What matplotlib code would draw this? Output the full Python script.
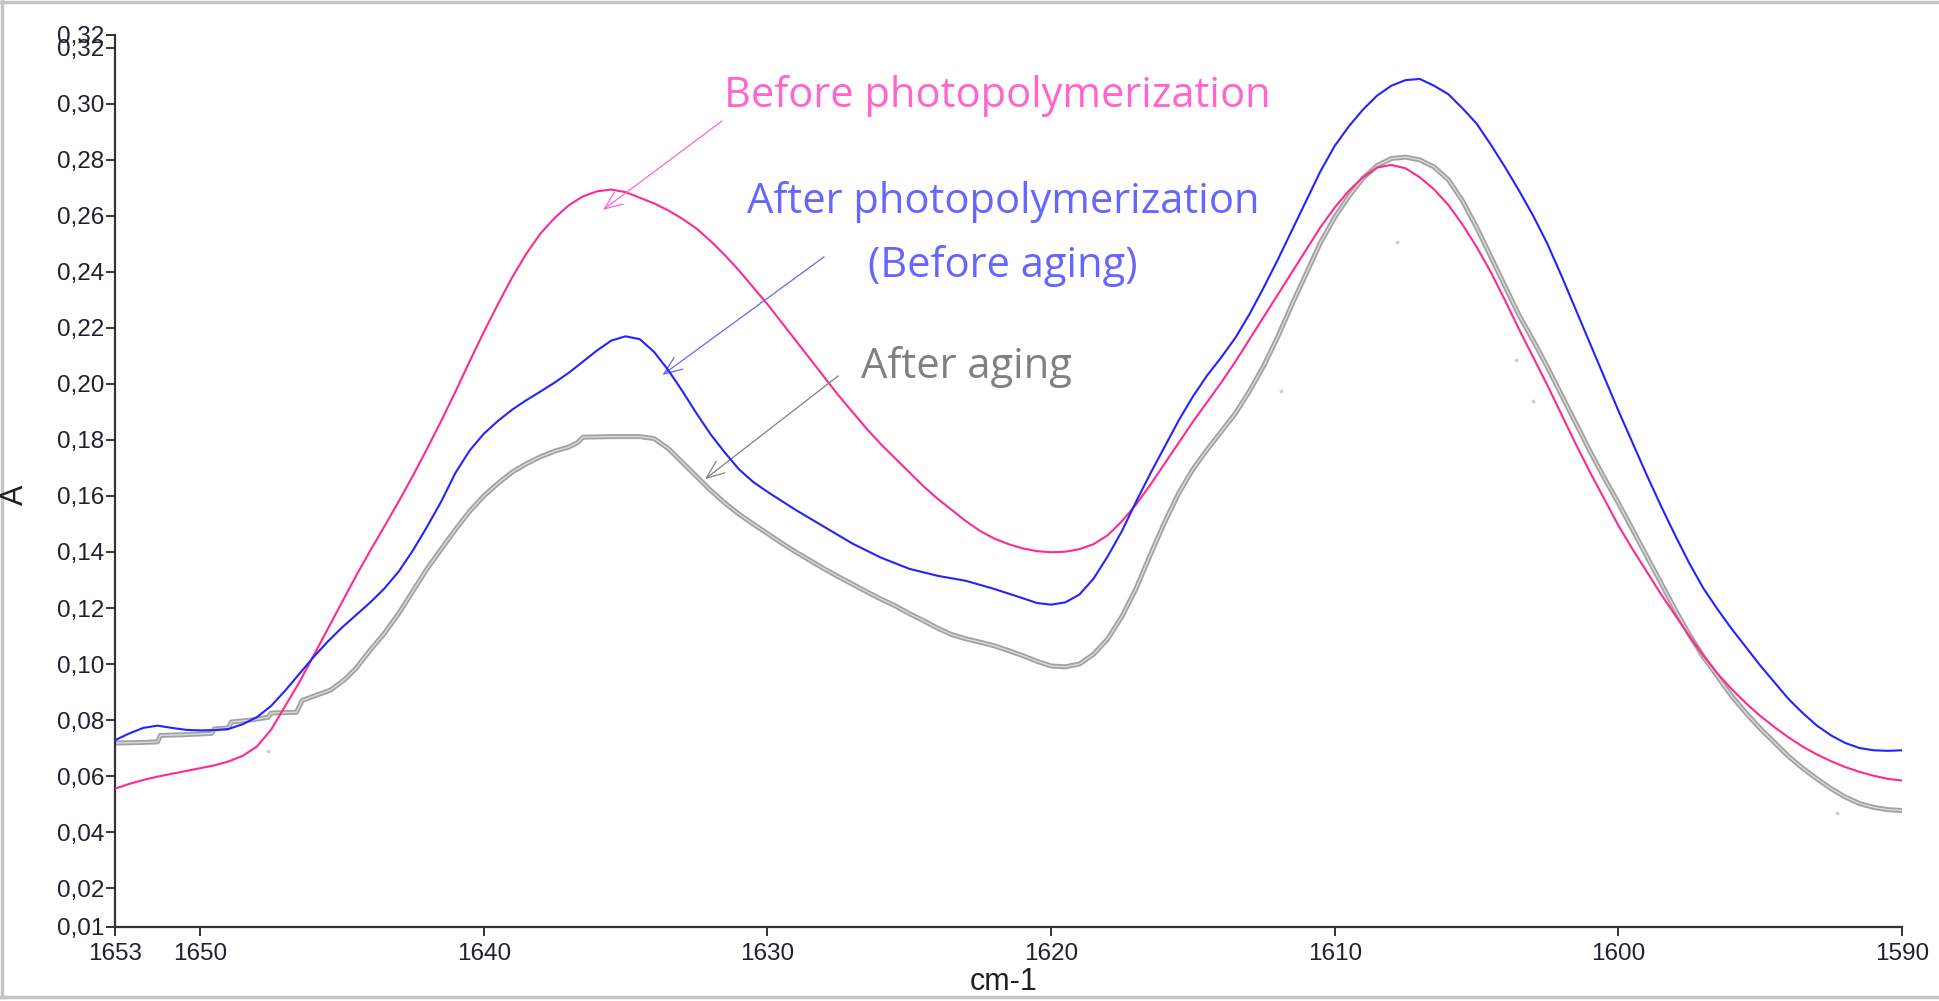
import matplotlib
matplotlib.use("Agg")
import matplotlib.pyplot as plt
from matplotlib.lines import Line2D

# Absorbance spectra, wavenumber (cm-1) vs absorbance
wn_before = [1653.0, 1652.5, 1652.0, 1651.5, 1651.0, 1650.5, 1650.0, 1649.5, 1649.0, 1648.5,
             1648.0, 1647.5, 1647.0, 1646.5, 1646.0, 1645.5, 1645.0, 1644.5, 1644.0, 1643.5,
             1643.0, 1642.5, 1642.0, 1641.5, 1641.0, 1640.5, 1640.0, 1639.5, 1639.0, 1638.5,
             1638.0, 1637.5, 1637.0, 1636.5, 1636.0, 1635.5, 1635.0, 1634.5, 1634.0, 1633.5,
             1633.0, 1632.5, 1632.0, 1631.5, 1631.0, 1630.5, 1630.0, 1629.5, 1629.0, 1628.5,
             1628.0, 1627.5, 1627.0, 1626.5, 1626.0, 1625.5, 1625.0, 1624.5, 1624.0, 1623.5,
             1623.0, 1622.5, 1622.0, 1621.5, 1621.0, 1620.5, 1620.0, 1619.5, 1619.0, 1618.5,
             1618.0, 1617.5, 1617.0, 1616.5, 1616.0, 1615.5, 1615.0, 1614.5, 1614.0, 1613.5,
             1613.0, 1612.5, 1612.0, 1611.5, 1611.0, 1610.5, 1610.0, 1609.5, 1609.0, 1608.5,
             1608.0, 1607.5, 1607.0, 1606.5, 1606.0, 1605.5, 1605.0, 1604.5, 1604.0, 1603.5,
             1603.0, 1602.5, 1602.0, 1601.5, 1601.0, 1600.5, 1600.0, 1599.5, 1599.0, 1598.5,
             1598.0, 1597.5, 1597.0, 1596.5, 1596.0, 1595.5, 1595.0, 1594.5, 1594.0, 1593.5,
             1593.0, 1592.5, 1592.0, 1591.5, 1591.0, 1590.5, 1590.0]
abs_before = [0.0555, 0.0572, 0.0586, 0.0598, 0.0608, 0.0618, 0.0628, 0.0638, 0.0652, 0.0672,
              0.0705, 0.0765, 0.0850, 0.0935, 0.1030, 0.1125, 0.1220, 0.1315, 0.1405, 0.1492,
              0.1580, 0.1672, 0.1768, 0.1868, 0.1972, 0.2080, 0.2185, 0.2285, 0.2380, 0.2465,
              0.2537, 0.2593, 0.2638, 0.2670, 0.2688, 0.2694, 0.2685, 0.2665, 0.2645, 0.2620,
              0.2590, 0.2555, 0.2510, 0.2460, 0.2405, 0.2345, 0.2285, 0.2220, 0.2155, 0.2090,
              0.2025, 0.1960, 0.1900, 0.1840, 0.1785, 0.1735, 0.1685, 0.1635, 0.1590, 0.1550,
              0.1510, 0.1475, 0.1448, 0.1428, 0.1413, 0.1403, 0.1399, 0.1401, 0.1410, 0.1428,
              0.1460, 0.1510, 0.1570, 0.1640, 0.1715, 0.1790, 0.1865, 0.1935, 0.2005, 0.2080,
              0.2160, 0.2240, 0.2320, 0.2400, 0.2480, 0.2560, 0.2630, 0.2690, 0.2738, 0.2773,
              0.2782, 0.2770, 0.2738, 0.2695, 0.2640, 0.2570, 0.2490, 0.2400, 0.2300, 0.2195,
              0.2095, 0.1995, 0.1890, 0.1785, 0.1685, 0.1590, 0.1495, 0.1410, 0.1330, 0.1250,
              0.1175, 0.1100, 0.1030, 0.0965, 0.0910, 0.0860, 0.0815, 0.0775, 0.0738, 0.0705,
              0.0677, 0.0653, 0.0632, 0.0615, 0.0601, 0.0590, 0.0584]

wn_after = [1653.0, 1652.5, 1652.0, 1651.5, 1651.0, 1650.5, 1650.0, 1649.5, 1649.0, 1648.5,
            1648.0, 1647.5, 1647.0, 1646.5, 1646.0, 1645.5, 1645.0, 1644.5, 1644.0, 1643.5,
            1643.0, 1642.5, 1642.0, 1641.5, 1641.0, 1640.5, 1640.0, 1639.5, 1639.0, 1638.5,
            1638.0, 1637.5, 1637.0, 1636.5, 1636.0, 1635.5, 1635.0, 1634.5, 1634.0, 1633.5,
            1633.0, 1632.5, 1632.0, 1631.5, 1631.0, 1630.5, 1630.0, 1629.0, 1628.0, 1627.0,
            1626.0, 1625.0, 1624.0, 1623.0, 1622.0, 1621.0, 1620.5, 1620.0, 1619.5, 1619.0,
            1618.5, 1618.0, 1617.5, 1617.0, 1616.5, 1616.0, 1615.5, 1615.0, 1614.5, 1614.0,
            1613.5, 1613.0, 1612.5, 1612.0, 1611.5, 1611.0, 1610.5, 1610.0, 1609.5, 1609.0,
            1608.5, 1608.0, 1607.5, 1607.0, 1606.5, 1606.0, 1605.5, 1605.0, 1604.5, 1604.0,
            1603.5, 1603.0, 1602.5, 1602.0, 1601.5, 1601.0, 1600.5, 1600.0, 1599.5, 1599.0,
            1598.5, 1598.0, 1597.5, 1597.0, 1596.5, 1596.0, 1595.5, 1595.0, 1594.5, 1594.0,
            1593.5, 1593.0, 1592.5, 1592.0, 1591.5, 1591.0, 1590.5, 1590.0]
abs_after = [0.0728, 0.0752, 0.0772, 0.0780, 0.0772, 0.0765, 0.0763, 0.0764, 0.0768, 0.0785,
             0.0810, 0.0850, 0.0905, 0.0965, 0.1025, 0.1080, 0.1130, 0.1175, 0.1220, 0.1270,
             0.1330, 0.1405, 0.1490, 0.1580, 0.1682, 0.1762, 0.1822, 0.1868, 0.1908, 0.1942,
             0.1973, 0.2005, 0.2040, 0.2080, 0.2120, 0.2155, 0.2170, 0.2160, 0.2115, 0.2050,
             0.1975, 0.1895, 0.1820, 0.1755, 0.1695, 0.1650, 0.1615, 0.1550, 0.1490, 0.1430,
             0.1380, 0.1340, 0.1315, 0.1297, 0.1268, 0.1235, 0.1218, 0.1212, 0.1220, 0.1248,
             0.1305, 0.1385, 0.1475, 0.1580, 0.1680, 0.1775, 0.1870, 0.1955, 0.2030, 0.2095,
             0.2165, 0.2250, 0.2345, 0.2445, 0.2550, 0.2655, 0.2760, 0.2850, 0.2920, 0.2980,
             0.3030, 0.3065, 0.3085, 0.3089, 0.3065, 0.3035, 0.2985, 0.2930, 0.2855, 0.2775,
             0.2690, 0.2600, 0.2500, 0.2385, 0.2265, 0.2145, 0.2025, 0.1905, 0.1790, 0.1675,
             0.1565, 0.1460, 0.1360, 0.1270, 0.1195, 0.1125, 0.1060, 0.0995, 0.0935, 0.0875,
             0.0825, 0.0780, 0.0745, 0.0718, 0.0700, 0.0692, 0.0690, 0.0692]

wn_aged = [1653.0, 1652.0, 1651.5, 1651.4, 1650.5, 1649.6, 1649.5, 1649.0, 1648.9, 1648.2,
           1647.6, 1647.5, 1646.6, 1646.4, 1646.0, 1645.4, 1644.9, 1644.5, 1644.0, 1643.5,
           1643.0, 1642.5, 1642.0, 1641.5, 1641.0, 1640.5, 1640.0, 1639.5, 1639.0, 1638.5,
           1638.0, 1637.5, 1637.0, 1636.7, 1636.5, 1635.5, 1634.5, 1634.0, 1633.5, 1633.0,
           1632.5, 1632.0, 1631.5, 1631.0, 1630.5, 1630.0, 1629.5, 1629.0, 1628.5, 1628.0,
           1627.5, 1627.0, 1626.5, 1626.0, 1625.5, 1625.0, 1624.5, 1624.0, 1623.5, 1623.0,
           1622.5, 1622.0, 1621.5, 1621.0, 1620.5, 1620.0, 1619.5, 1619.0, 1618.5, 1618.0,
           1617.5, 1617.0, 1616.5, 1616.0, 1615.5, 1615.0, 1614.5, 1614.0, 1613.5, 1613.0,
           1612.5, 1612.0, 1611.5, 1611.0, 1610.5, 1610.0, 1609.5, 1609.0, 1608.5, 1608.0,
           1607.5, 1607.0, 1606.5, 1606.0, 1605.5, 1605.0, 1604.5, 1604.0, 1603.5, 1603.0,
           1602.5, 1602.0, 1601.5, 1601.0, 1600.5, 1600.0, 1599.5, 1599.0, 1598.5, 1598.0,
           1597.5, 1597.0, 1596.5, 1596.0, 1595.5, 1595.0, 1594.5, 1594.0, 1593.5, 1593.0,
           1592.5, 1592.0, 1591.5, 1591.0, 1590.5, 1590.0]
abs_aged = [0.0718, 0.0720, 0.0722, 0.0745, 0.0748, 0.0752, 0.0768, 0.0772, 0.0793, 0.0800,
            0.0810, 0.0825, 0.0828, 0.0870, 0.0885, 0.0907, 0.0945, 0.0985, 0.1050, 0.1110,
            0.1180, 0.1260, 0.1340, 0.1410, 0.1480, 0.1545, 0.1600, 0.1645, 0.1685, 0.1715,
            0.1740, 0.1760, 0.1775, 0.1790, 0.1810, 0.1812, 0.1812, 0.1805, 0.1770, 0.1720,
            0.1670, 0.1620, 0.1575, 0.1535, 0.1500, 0.1466, 0.1432, 0.1400, 0.1370, 0.1340,
            0.1312, 0.1285, 0.1258, 0.1232, 0.1208, 0.1180, 0.1155, 0.1128, 0.1105, 0.1090,
            0.1078, 0.1065, 0.1048, 0.1030, 0.1010, 0.0993, 0.0990, 0.1000, 0.1035, 0.1090,
            0.1170, 0.1270, 0.1390, 0.1505, 0.1610, 0.1695, 0.1765, 0.1830, 0.1895, 0.1975,
            0.2065, 0.2170, 0.2285, 0.2395, 0.2505, 0.2595, 0.2670, 0.2735, 0.2780, 0.2805,
            0.2810, 0.2800, 0.2775, 0.2730, 0.2655, 0.2560, 0.2455, 0.2350, 0.2245, 0.2155,
            0.2060, 0.1960, 0.1860, 0.1760, 0.1665, 0.1575, 0.1480, 0.1385, 0.1290, 0.1195,
            0.1105, 0.1025, 0.0955, 0.0885, 0.0825, 0.0770, 0.0720, 0.0670, 0.0628, 0.0590,
            0.0555, 0.0525, 0.0502, 0.0488, 0.0480, 0.0477]

# Isolated faint points recorded alongside the aged spectrum
wn_stray = [1647.6, 1607.8, 1611.9, 1603.6, 1603.0, 1592.3]
abs_stray = [0.0689, 0.2508, 0.1976, 0.2086, 0.1940, 0.0468]

x_ticks = [1653, 1650, 1640, 1630, 1620, 1610, 1600, 1590]
y_min, y_max = 0.0061, 0.3246
y_ticks = [y_min, 0.02, 0.04, 0.06, 0.08, 0.10, 0.12, 0.14, 0.16, 0.18, 0.20,
           0.22, 0.24, 0.26, 0.28, 0.30, 0.32, y_max]

W, H = 1940, 1001
fig = plt.figure(figsize=(W / 100, H / 100), dpi=100)
fig.patch.set_facecolor("white")
ax = fig.add_axes([115 / W, 1 - 927 / H, (1902 - 115) / W, (927 - 35) / H])

# Spectra
ax.plot(wn_aged, abs_aged, color="#a2a2a2", lw=3.6, solid_joinstyle="round",
        solid_capstyle="round", zorder=2)
ax.plot(wn_aged, abs_aged, color="#dadada", lw=1.0, zorder=2.1)
ax.plot(wn_stray, abs_stray, ls="none", marker="o", ms=2.8, color="#d0d0d0",
        mec="none", zorder=1.5)
ax.plot(wn_before, abs_before, color="#ff2a8c", lw=1.5, zorder=3)
ax.plot(wn_after, abs_after, color="#2323ff", lw=1.5, zorder=4)

ax.set_xlim(1653, 1590)
ax.set_ylim(y_min, y_max)

ax.set_xticks(x_ticks)
ax.set_xticklabels([str(t) for t in x_ticks])
ax.set_yticks(y_ticks)
ax.set_yticklabels([f"{t:.2f}".replace(".", ",") for t in y_ticks])
for lab in ax.get_xticklabels() + ax.get_yticklabels():
    lab.set_fontfamily("Liberation Sans")
    lab.set_fontsize(17.5)
    lab.set_color("#202030")
ax.tick_params(axis="both", direction="out", length=6.5, width=1.4, color="#333333")
ax.tick_params(axis="x", pad=5)
ax.tick_params(axis="y", pad=1)

for side in ("top", "right"):
    ax.spines[side].set_visible(False)
for side in ("left", "bottom"):
    ax.spines[side].set_color("#333333")
    ax.spines[side].set_linewidth(1.6)

# Axis titles
fig.text(1004 / W, 1 - 982 / H, "cm-1", family="Liberation Sans", fontsize=22,
         color="#202020", ha="center", va="center")
fig.text(15 / W, 1 - 495 / H, "A", family="Liberation Sans", fontsize=22,
         color="#202020", ha="center", va="center", rotation=90)

# Curve labels with open-headed pointers
ann_font = dict(family="Open Sans", fontsize=30)
arrow = "->,head_length=1.0,head_width=0.4"

ax.text(1621.9, 0.3029, "Before photopolymerization", color="#ff66cc",
        ha="center", va="center", **ann_font)
ax.annotate("", xy=(1635.8, 0.2621), xytext=(1631.6, 0.2939),
            arrowprops=dict(arrowstyle=arrow, color="#ff66cc", lw=0.9,
                            shrinkA=0, shrinkB=0, mutation_scale=13))

ax.text(1621.7, 0.2650, "After photopolymerization", color="#6666ff",
        ha="center", va="center", **ann_font)
ax.text(1621.7, 0.2421, "(Before aging)", color="#6666ff",
        ha="center", va="center", **ann_font)
ax.annotate("", xy=(1633.7, 0.2032), xytext=(1628.0, 0.2454),
            arrowprops=dict(arrowstyle=arrow, color="#6666ff", lw=0.9,
                            shrinkA=0, shrinkB=0, mutation_scale=13))

ax.text(1623.0, 0.2060, "After aging", color="#808080",
        ha="center", va="center", **ann_font)
ax.annotate("", xy=(1632.2, 0.1660), xytext=(1627.5, 0.2029),
            arrowprops=dict(arrowstyle=arrow, color="#808080", lw=0.9,
                            shrinkA=0, shrinkB=0, mutation_scale=13))

# Light frame around the figure
frame = dict(color="#c4c4c4", lw=2.5, transform=fig.transFigure)
fig.add_artist(Line2D([0.0008, 0.0008], [0.004, 1.0], **frame))
fig.add_artist(Line2D([0.0, 1.0], [0.9985, 0.9985], **frame))
fig.add_artist(Line2D([0.0, 1.0], [0.004, 0.004], **frame))

fig.savefig("out.png", dpi=100, facecolor="white")
